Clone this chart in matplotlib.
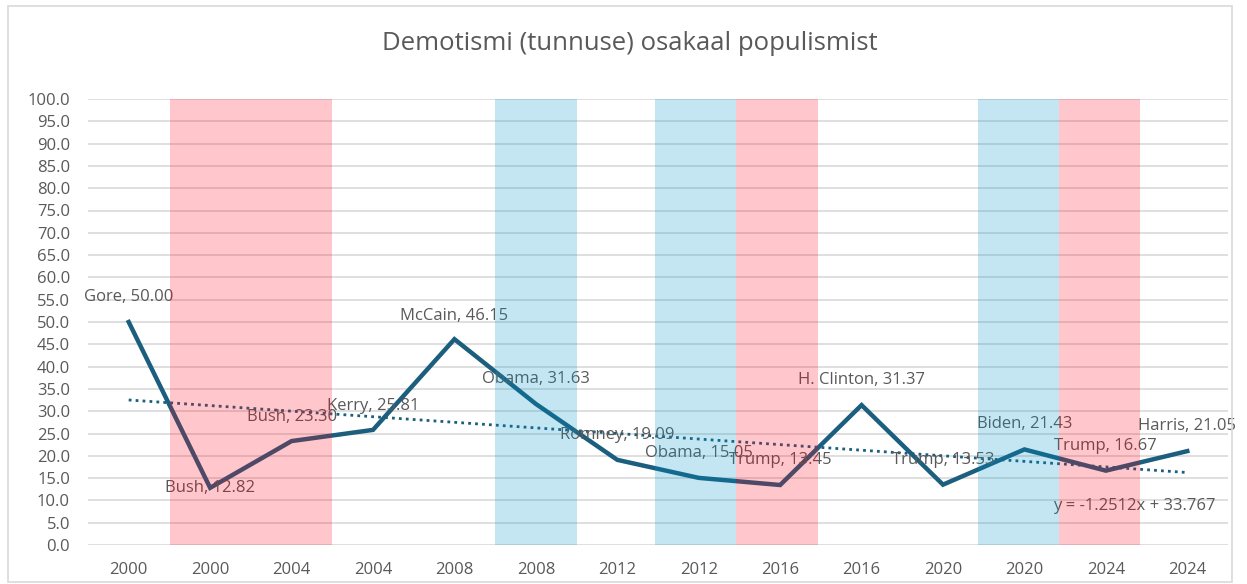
import matplotlib.pyplot as plt
from matplotlib.patches import Rectangle

plt.rcParams['font.family'] = ['Open Sans', 'DejaVu Sans']

# andmed
years = ['2000', '2000', '2004', '2004', '2008', '2008', '2012',
         '2012', '2016', '2016', '2020', '2020', '2024', '2024']
names = ['Gore', 'Bush', 'Bush', 'Kerry', 'McCain', 'Obama', 'Romney',
         'Obama', 'Trump', 'H. Clinton', 'Trump', 'Biden', 'Trump', 'Harris']
values = [50.00, 12.82, 23.30, 25.81, 46.15, 31.63, 19.09,
          15.05, 13.45, 31.37, 13.53, 21.43, 16.67, 21.05]
# sildi nihe üles punktides
label_dy = [18, 0, 17, 17, 17, 18, 18, 18, 18, 18, 18, 18, 18, 18]
# taustavärvid (vabariiklased punane, demokraadid sinine)
red_bands = [(0.507, 2.496), (7.46, 8.465), (11.42, 12.42)]
blue_bands = [(4.498, 5.505), (6.463, 7.46), (10.43, 11.42)]
slope, intercept = -1.2512, 33.767

x = list(range(len(values)))
trend = [slope * (i + 1) + intercept for i in x]

fig = plt.figure(figsize=(12.47, 5.84), dpi=100)
fig.patches.append(Rectangle((8 / 1247, 2 / 584), 1224 / 1247, 576 / 584,
                             transform=fig.transFigure, fill=False,
                             edgecolor='#d9d9d9', linewidth=1.2))
ax = fig.add_axes([88 / 1247, 1 - 545 / 584, 1140 / 1247, 446 / 584])

line_col = '#1b5e7e'
txt_col = '#595959'

ax.plot(x, values, color=line_col, linewidth=3.2, zorder=3,
        solid_joinstyle='miter')
ax.plot(x, trend, color=line_col, linewidth=2, linestyle=(0, (1, 1.5)), zorder=3)

for i, (nm, v) in enumerate(zip(names, values)):
    ax.annotate('%s, %.2f' % (nm, v), (i, v), xytext=(0, label_dy[i]),
                textcoords='offset points', ha='center', va='center',
                fontsize=12, color=txt_col, zorder=4)

ax.text(12.35, 8.7, 'y = -1.2512x + 33.767', ha='center', va='center',
        fontsize=12, color=txt_col, zorder=4)

for a, b in red_bands:
    ax.axvspan(a, b, color=(1.0, 0.0, 0.08), alpha=0.22, linewidth=0, zorder=5)
for a, b in blue_bands:
    ax.axvspan(a, b, color=(0.0, 0.59, 0.78), alpha=0.23, linewidth=0, zorder=5)

ax.set_xlim(-0.5, 13.5)
ax.set_ylim(0, 100)
ax.set_yticks([i * 5 for i in range(21)])
ax.set_yticklabels(['%.1f' % (i * 5) for i in range(21)])
ax.set_xticks(x)
ax.set_xticklabels(years)
ax.grid(axis='y', color='#d9d9d9', linewidth=1.2, zorder=0)
ax.set_axisbelow(True)
for s in ax.spines.values():
    s.set_visible(False)
ax.tick_params(length=0, labelsize=12, labelcolor=txt_col)
ax.tick_params(axis='x', pad=12)
ax.tick_params(axis='y', pad=13)

fig.text(630 / 1247, 1 - 43 / 584, 'Demotismi (tunnuse) osakaal populismist',
         ha='center', va='center', fontsize=18.5, color=txt_col)

fig.savefig('out.png', dpi=100)
